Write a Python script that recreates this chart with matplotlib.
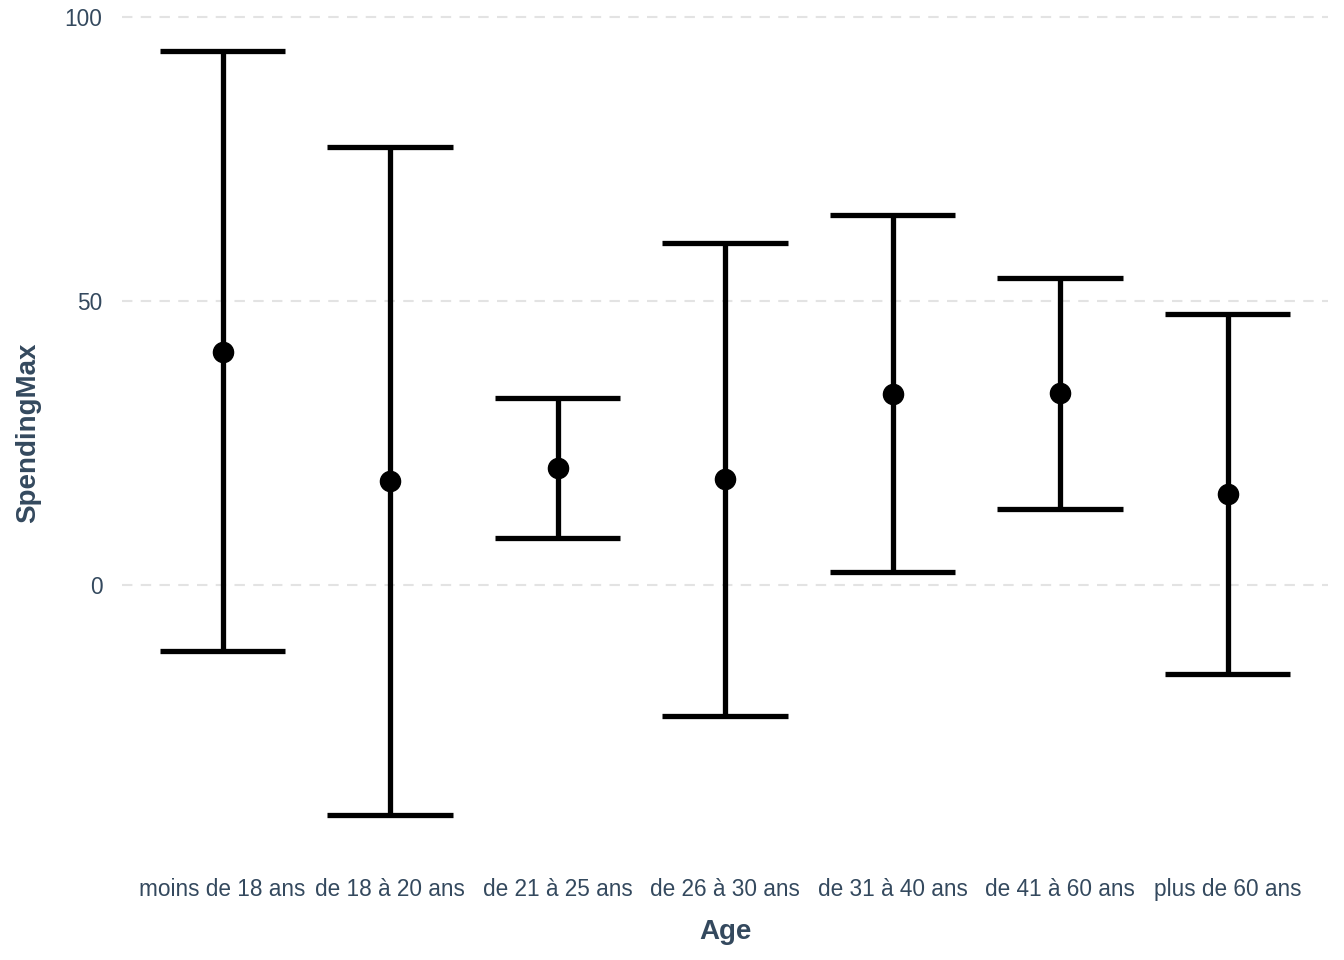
import matplotlib

matplotlib.use("Agg")
import matplotlib.pyplot as plt

age_groups = [
    "moins de 18 ans",
    "de 18 à 20 ans",
    "de 21 à 25 ans",
    "de 26 à 30 ans",
    "de 31 à 40 ans",
    "de 41 à 60 ans",
    "plus de 60 ans",
]
means = [41.0, 18.3, 20.6, 18.7, 33.6, 33.8, 16.0]
upper = [94.0, 77.1, 32.9, 60.2, 65.1, 54.0, 47.7]
lower = [-11.6, -40.5, 8.3, -23.1, 2.3, 13.4, -15.7]

TEXT = "#34495e"
plt.rcParams["font.family"] = ["Liberation Sans", "DejaVu Sans"]

fig = plt.figure(figsize=(13.44, 9.6), dpi=100)
ax = fig.add_axes([122 / 1344, 1 - 853 / 960, 1206 / 1344, 840 / 960])

x = list(range(1, len(age_groups) + 1))
for xi, lo, hi in zip(x, lower, upper):
    ax.plot([xi, xi], [lo, hi], color="black", lw=3.8, solid_capstyle="butt", zorder=3)
    for yv in (lo, hi):
        ax.plot([xi - 0.375, xi + 0.375], [yv, yv], color="black", lw=3.8,
                solid_capstyle="butt", zorder=3)
ax.plot(x, means, "o", color="black", markersize=14.5, zorder=4)

ax.set_xlim(0.4, 7.6)
ax.set_ylim(-47.2, 100.7)
ax.set_yticks([0, 50, 100])
ax.set_xticks(x)
ax.set_xticklabels(age_groups)
ax.grid(axis="y", color="#e3e3e3", lw=1.5, linestyle=(0, (5, 4)))
ax.set_axisbelow(True)
for s in ax.spines.values():
    s.set_visible(False)
ax.tick_params(axis="both", length=0, labelsize=16.3, colors=TEXT)
ax.tick_params(axis="x", pad=18)
ax.tick_params(axis="y", pad=14)
ax.set_xlabel("Age", fontsize=20, fontweight="bold", color=TEXT, labelpad=13)
ax.set_ylabel("SpendingMax", fontsize=20, fontweight="bold", color=TEXT, labelpad=17)

fig.savefig("out.png")
